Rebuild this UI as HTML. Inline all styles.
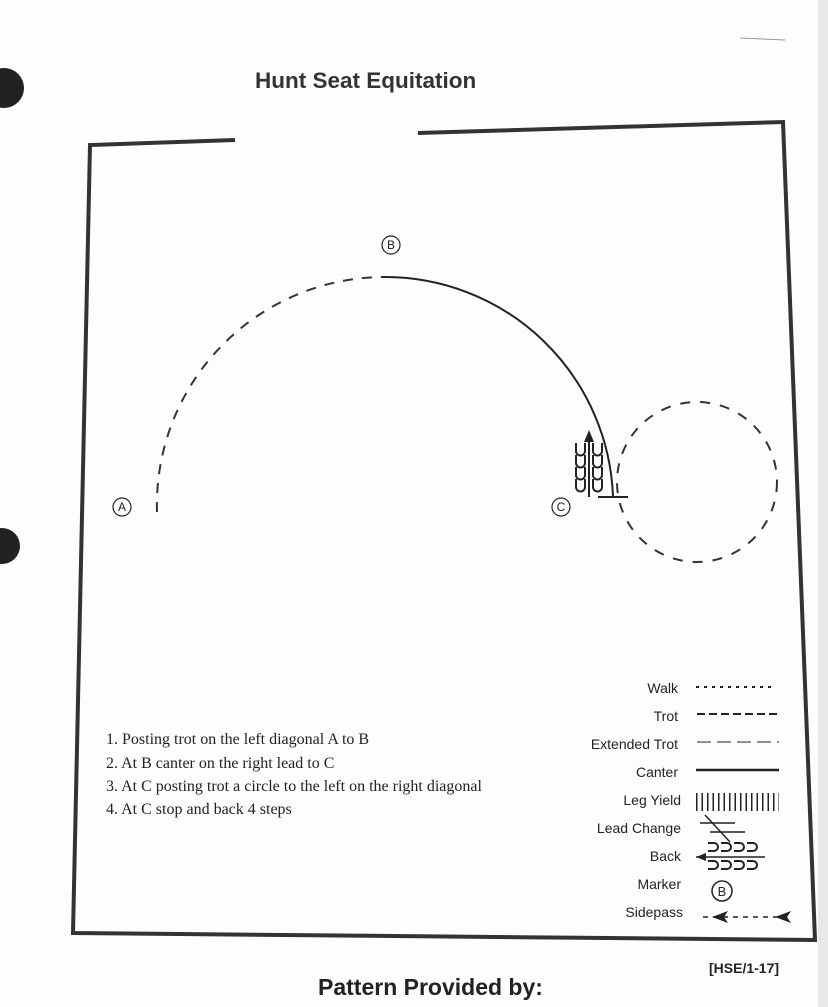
<!DOCTYPE html>
<html><head><style>
body{margin:0;background:#fff;}
svg{display:block}
</style></head><body>
<svg width="828" height="1007" viewBox="0 0 828 1007" xmlns="http://www.w3.org/2000/svg">
<rect width="828" height="1007" fill="#fdfdfd"/>
<rect x="818" y="0" width="10" height="1007" fill="#e8e8e8"/>
<circle cx="4" cy="88" r="20" fill="#222"/>
<circle cx="2" cy="546" r="18" fill="#222"/>
<line x1="740" y1="38" x2="785" y2="40" stroke="#999" stroke-width="1"/>
<text x="255" y="88" font-family="Liberation Sans, sans-serif" font-weight="bold" font-size="22.5" fill="#333">Hunt Seat Equitation</text>
<g stroke="#333" stroke-width="4" fill="none">
<polyline points="235,140 90,145 73,933 815,940 783,122 418,133"/>
</g>
<path d="M157,512 A228,228 0 0 1 383,277" stroke="#333" stroke-width="2" fill="none" stroke-dasharray="10,9"/>
<path d="M383,277 A228,228 0 0 1 613,497" stroke="#222" stroke-width="2" fill="none"/>
<circle cx="697" cy="482" r="80" stroke="#333" stroke-width="2" fill="none" stroke-dasharray="10,10"/>
<line x1="598" y1="497" x2="628" y2="497" stroke="#222" stroke-width="2"/>
<g stroke="#222" stroke-width="2" fill="none">
<line x1="589" y1="497" x2="589" y2="436"/>
<path d="M576,443 v8 a4.5,4.5 0 0 0 9,0 v-8 M576,455 v8 a4.5,4.5 0 0 0 9,0 v-8 M576,467 v8 a4.5,4.5 0 0 0 9,0 v-8 M576,479 v8 a4.5,4.5 0 0 0 9,0 v-8"/>
<path d="M593,443 v8 a4.5,4.5 0 0 0 9,0 v-8 M593,455 v8 a4.5,4.5 0 0 0 9,0 v-8 M593,467 v8 a4.5,4.5 0 0 0 9,0 v-8 M593,479 v8 a4.5,4.5 0 0 0 9,0 v-8"/>
</g>
<polygon points="584,442 589,430 594,442" fill="#222"/>
<g font-family="Liberation Sans, sans-serif" font-size="12" fill="#222" stroke="#222" text-anchor="middle">
<circle cx="122" cy="507" r="9" fill="none" stroke-width="1.2"/><text x="122" y="511" stroke="none">A</text>
<circle cx="391" cy="245" r="9" fill="none" stroke-width="1.2"/><text x="391" y="249" stroke="none">B</text>
<circle cx="561" cy="507" r="9" fill="none" stroke-width="1.2"/><text x="561" y="511" stroke="none">C</text>
</g>
<g font-family="Liberation Serif, serif" font-size="16" fill="#222">
<text x="106" y="744">1. Posting trot on the left diagonal A to B</text>
<text x="106" y="768">2. At B canter on the right lead to C</text>
<text x="106" y="791">3. At C posting trot a circle to the left on the right diagonal</text>
<text x="106" y="814">4. At C stop and back 4 steps</text>
</g>
<g font-family="Liberation Sans, sans-serif" font-size="14" fill="#222" text-anchor="end">
<text x="678" y="693">Walk</text>
<text x="678" y="721">Trot</text>
<text x="678" y="749">Extended Trot</text>
<text x="678" y="777">Canter</text>
<text x="681" y="805">Leg Yield</text>
<text x="681" y="833">Lead Change</text>
<text x="681" y="861">Back</text>
<text x="681" y="889">Marker</text>
<text x="683" y="917">Sidepass</text>
</g>
<g stroke="#222" fill="none">
<line x1="696" y1="687" x2="772" y2="687" stroke-width="2" stroke-dasharray="3,5"/>
<line x1="697" y1="714" x2="779" y2="714" stroke-width="2" stroke-dasharray="8,4"/>
<line x1="697" y1="742" x2="779" y2="742" stroke-width="1" stroke-dasharray="14,6"/>
<line x1="696" y1="770" x2="779" y2="770" stroke-width="2.5"/>
<line x1="696" y1="802" x2="779" y2="802" stroke-width="18" stroke-dasharray="1.5,4"/>
<line x1="700" y1="823" x2="735" y2="823" stroke-width="1.5"/>
<line x1="710" y1="832" x2="745" y2="832" stroke-width="1.5"/>
<line x1="705" y1="815" x2="730" y2="842" stroke-width="1.5"/>
<line x1="696" y1="857" x2="765" y2="857" stroke-width="1.5"/>
<path d="M708,843 h6 a4,4 0 0 1 0,8 h-6 M721,843 h6 a4,4 0 0 1 0,8 h-6 M734,843 h6 a4,4 0 0 1 0,8 h-6 M747,843 h6 a4,4 0 0 1 0,8 h-6" stroke-width="2"/>
<path d="M708,861 h6 a4,4 0 0 1 0,8 h-6 M721,861 h6 a4,4 0 0 1 0,8 h-6 M734,861 h6 a4,4 0 0 1 0,8 h-6 M747,861 h6 a4,4 0 0 1 0,8 h-6" stroke-width="2"/>
<circle cx="722" cy="891" r="10" stroke-width="1.5"/>
<line x1="703" y1="917" x2="785" y2="917" stroke-width="1.5" stroke-dasharray="5,5"/>
</g>
<polygon points="696,857 706,853 706,861" fill="#222"/>
<polygon points="712,917 728,911 724,917 728,923" fill="#222"/>
<polygon points="775,917 791,911 787,917 791,923" fill="#222"/>
<text x="722" y="896" font-family="Liberation Sans, sans-serif" font-size="13" text-anchor="middle" fill="#222">B</text>
<text x="709" y="973" font-family="Liberation Sans, sans-serif" font-weight="bold" font-size="14" fill="#222">[HSE/1-17]</text>
<text x="318" y="995" font-family="Liberation Sans, sans-serif" font-weight="bold" font-size="23" fill="#222">Pattern Provided by:</text>
</svg>
</body></html>
